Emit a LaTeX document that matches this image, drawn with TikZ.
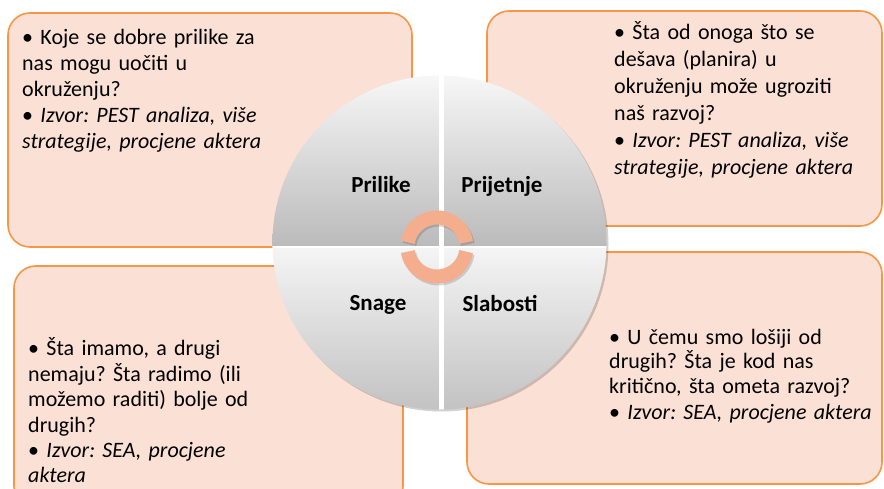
\documentclass[tikz,border=0pt]{standalone}
\usepackage{fontspec}
\setmainfont{Carlito}
\usepackage{xcolor}
\usepackage{tikz}
\frenchspacing

\definecolor{boxfill}{RGB}{251,224,213}
\definecolor{boxline}{RGB}{247,150,70}
\definecolor{ringcol}{RGB}{244,174,142}

\begin{document}
\begin{tikzpicture}[x=1pt, y=1pt,
    box/.style={draw=boxline, line width=1.6pt, fill=boxfill, rounded corners=22pt},
    boxtext/.style={anchor=base west, align=left, inner sep=0pt, text width=320pt,
        font=\fontsize{22}{#1}\selectfont},
    quad/.style={anchor=base, inner sep=0pt, font=\bfseries\fontsize{23}{26}\selectfont}]

    \useasboundingbox (0,0) rectangle (884,488);
    \fill[white] (0,0) rectangle (884,488);
    \clip (0,0) rectangle (884,488);

    % Boxes
    \draw[box] (8,475) rectangle (412,241);
    \draw[box] (487,477) rectangle (882,262);
    \draw[box] (14,222) rectangle (403,-20);
    \draw[box] (467,236) rectangle (882,4);

    % Box texts
    \node[boxtext=26] (prilikeText) at (22,443) {• Koje se dobre prilike za\\
        nas mogu uočiti u\\
        okruženju?\\
        • \textit{Izvor: PEST analiza, više}\\
        \textit{strategije, procjene aktera}};
    \node[boxtext=27] (prijetnjeText) at (614,448) {• Šta od onoga što se\\
        dešava (planira) u\\
        okruženju može ugroziti\\
        naš razvoj?\\
        • \textit{Izvor: PEST analiza, više}\\
        \textit{strategije, procjene aktera}};
    \node[boxtext=25.4] (snageText) at (28,132) {• Šta imamo, a drugi\\
        nemaju? Šta radimo (ili\\
        možemo raditi) bolje od\\
        drugih?\\
        • \textit{Izvor: SEA, procjene}\\
        \textit{aktera}};
    \node[boxtext=25] (slabostiText) at (609,144) {• U čemu smo lošiji od\\
        drugih? Šta je kod nas\\
        kritično, šta ometa razvoj?\\
        • \textit{Izvor: SEA, procjene aktera}};

    % Circle shadow
    \fill[black, opacity=0.18] (441.5,243.5) circle (167);

    % Circle quadrants
    \begin{scope}
        \clip (439.5,245.5) circle (167);
        \shade[top color=white!97!black, bottom color=black!27] (270,241) rectangle (610,414);
        \shade[top color=white!96!black, bottom color=black!24] (270,77) rectangle (610,241);
        \fill[white] (438.5,70) rectangle (443.5,420);
        \fill[white] (270,240.3) rectangle (610,241.7);
    \end{scope}

    % Quadrant labels
    \node[quad] (prilike) at (381,295) {Prilike};
    \node[quad] (prijetnje) at (502,295) {Prijetnje};
    \node[quad] (snage) at (378,177) {Snage};
    \node[quad] (slabosti) at (500,176) {Slabosti};

    % Cycle ring
    \draw[line width=14pt, black, opacity=0.15] (438.5,239) ++(9:29.5) arc (9:171:29.5);
    \draw[line width=14pt, black, opacity=0.15] (438.5,239) ++(189:29.5) arc (189:351:29.5);
    \draw[line width=14pt, ringcol] (437,241) ++(9:29.5) arc (9:171:29.5);
    \draw[line width=14pt, ringcol] (437,241) ++(189:29.5) arc (189:351:29.5);

\end{tikzpicture}
\end{document}
